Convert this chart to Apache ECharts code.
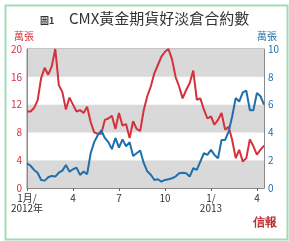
<!DOCTYPE html>
<html>
<head>
<meta charset="utf-8">
<script src="https://cdn.jsdelivr.net/npm/echarts@6/dist/echarts.min.js"></script>
<style>
  html, body { margin: 0; padding: 0; background: #fff; }
  #chart { width: 289px; height: 241px; }
</style>
</head>
<body>
<div id="chart"></div>
<script>
// weekly points, Jan 2012 to mid-Apr 2013
const xLabels = ['1月/\n2012年', '4', '7', '10', '1/\n2013', '4'];
const labelEvery = 13; // weeks per quarter

// 淨長倉數 (萬張, left axis)
const netLong = [
  11.0, 11.0, 11.5, 12.6, 15.8, 17.3, 16.3, 17.5, 20.0, 14.8,
  13.8, 11.3, 13.0, 12.0, 11.0, 11.2, 10.8, 11.7, 9.5, 8.0,
  7.8, 7.8, 9.8, 10.0, 10.4, 8.5, 10.8, 9.0, 9.2, 7.2,
  9.6, 8.5, 8.2, 11.2, 13.2, 14.6, 16.5, 17.7, 18.9, 19.6,
  20.0, 18.5, 16.0, 14.6, 12.9, 14.1, 15.1, 16.9, 12.7, 12.9,
  11.3, 10.0, 10.3, 9.1, 9.8, 10.8, 8.4, 8.8, 6.9, 4.3,
  5.5, 3.8, 4.3, 7.0, 6.0, 4.8, 5.5, 6.1
];

// 淨短倉數 (萬張, right axis)
const netShort = [
  1.78, 1.6, 1.3, 1.1, 0.58, 0.53, 0.77, 0.87, 0.82, 1.1,
  1.25, 1.66, 1.18, 1.35, 1.47, 0.94, 1.18, 1.0, 2.5, 3.3,
  3.8, 4.15, 3.6, 3.3, 2.8, 3.6, 2.9, 3.5, 3.0, 3.3,
  2.3, 2.5, 2.7, 1.8, 1.2, 0.95, 0.58, 0.63, 0.46, 0.58,
  0.63, 0.7, 0.82, 1.06, 1.1, 1.06, 0.82, 1.42, 1.3, 1.9,
  2.5, 2.38, 2.74, 2.38, 2.14, 3.46, 3.46, 4.06, 5.14, 6.47,
  6.22, 6.88, 7.0, 5.6, 5.6, 6.83, 6.6, 6.0
];

const categories = netLong.map((v, i) =>
  i % labelEvery === 0 ? (xLabels[i / labelEvery] || '') : ''
);

const RED = '#d6303c';
const BLUE = '#1f6fab';
const FONT = '"Noto Sans CJK TC", "Noto Sans", sans-serif';

const chart = echarts.init(document.getElementById('chart'), null, { renderer: 'canvas' });

chart.setOption({
  animation: false,
  textStyle: { fontFamily: FONT },
  grid: {
    left: 27, right: 25, top: 49, bottom: 53,
    show: true, borderColor: '#8a8a8a', borderWidth: 1
  },
  graphic: [
    {
      type: 'rect', left: 3, top: 3,
      shape: { width: 282, height: 234 },
      style: { fill: 'none', stroke: '#9fdcb4', lineWidth: 2 }
    },
    {
      type: 'text', left: 40, top: 16,
      style: { text: '圖1', font: 'bold 9px ' + FONT, fill: '#333' }
    },
    {
      type: 'text', left: 69, top: 11,
      style: { text: 'CMX黃金期貨好淡倉合約數', font: '15px ' + FONT, fill: '#333' }
    },
    {
      type: 'text', left: 14, top: 31,
      style: { text: '萬張', font: '10px ' + FONT, fill: RED }
    },
    {
      type: 'text', left: 257, top: 31,
      style: { text: '萬張', font: '10px ' + FONT, fill: BLUE }
    },
    {
      type: 'text', left: 181, top: 55,
      style: { text: '淨長倉數', font: '11px ' + FONT, fill: RED }
    },
    {
      type: 'text', left: 161, top: 143,
      style: { text: '淨短倉數', font: '11px ' + FONT, fill: BLUE }
    },
    {
      type: 'text', left: 253, top: 217,
      style: { text: '信報', font: 'bold 12px serif', fill: '#c0282c' }
    }
  ],
  xAxis: {
    type: 'category',
    data: categories,
    boundaryGap: false,
    axisLine: { lineStyle: { color: '#8a8a8a' } },
    axisTick: {
      length: 3,
      interval: (i) => i % labelEvery === 0,
      lineStyle: { color: '#666' }
    },
    axisLabel: {
      interval: (i) => i % labelEvery === 0,
      color: '#333', fontSize: 10, lineHeight: 10, margin: 5
    },
    splitLine: { show: false }
  },
  yAxis: [
    {
      type: 'value', min: 0, max: 20, interval: 4,
      axisLine: { show: true, lineStyle: { color: '#8a8a8a' } },
      axisTick: { show: false },
      axisLabel: { color: RED, fontSize: 10, margin: 5 },
      splitLine: { show: false },
      splitArea: { show: true, areaStyle: { color: ['#d9d9d9', '#ffffff'] } }
    },
    {
      type: 'value', min: 0, max: 10, interval: 2,
      axisLine: { show: true, lineStyle: { color: '#8a8a8a' } },
      axisTick: { show: false },
      axisLabel: { color: BLUE, fontSize: 10, margin: 4 },
      splitLine: { show: false }
    }
  ],
  series: [
    {
      name: '淨長倉數', type: 'line', yAxisIndex: 0,
      data: netLong, symbol: 'none',
      lineStyle: { color: RED, width: 2 }
    },
    {
      name: '淨短倉數', type: 'line', yAxisIndex: 1,
      data: netShort, symbol: 'none',
      lineStyle: { color: BLUE, width: 2 }
    }
  ]
});
</script>
</body>
</html>
